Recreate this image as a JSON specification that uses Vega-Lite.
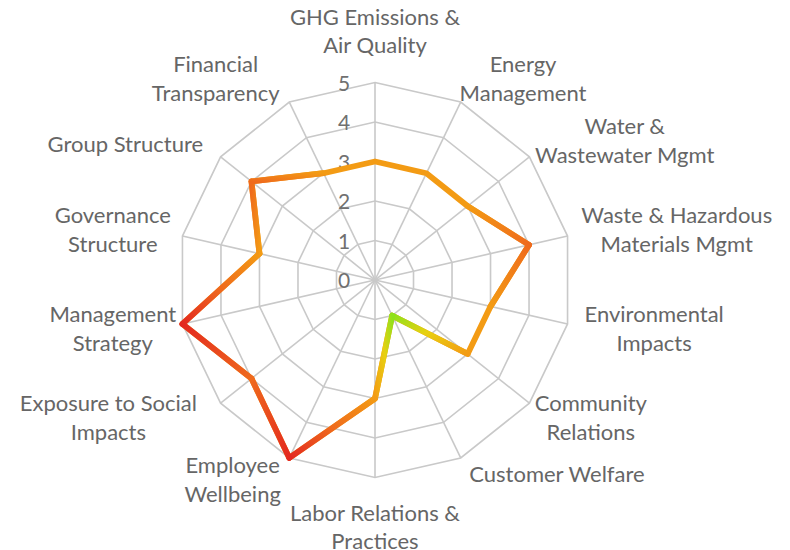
{
  "$schema": "https://vega.github.io/schema/vega-lite/v6.json",
  "width": 790,
  "height": 550,
  "autosize": "none",
  "padding": 0,
  "background": "white",
  "config": {"view": {"stroke": null}},
  "datasets": {
    "cats": [
      {"i": 0, "label": ["GHG Emissions &", "Air Quality"], "value": 3},
      {"i": 1, "label": ["Energy", "Management"], "value": 3},
      {"i": 2, "label": ["Water &", "Wastewater Mgmt"], "value": 3},
      {"i": 3, "label": ["Waste & Hazardous", "Materials Mgmt"], "value": 4},
      {"i": 4, "label": ["Environmental", "Impacts"], "value": 3},
      {"i": 5, "label": ["Community", "Relations"], "value": 3},
      {"i": 6, "label": ["Customer Welfare"], "value": 1},
      {"i": 7, "label": ["Labor Relations &", "Practices"], "value": 3},
      {"i": 8, "label": ["Employee", "Wellbeing"], "value": 5},
      {"i": 9, "label": ["Exposure to Social", "Impacts"], "value": 4},
      {"i": 10, "label": ["Management", "Strategy"], "value": 5},
      {"i": 11, "label": ["Governance", "Structure"], "value": 3},
      {"i": 12, "label": ["Group Structure"], "value": 4},
      {"i": 13, "label": ["Financial", "Transparency"], "value": 3}
    ],
    "grid": [
      {"i":0,"level":1},{"i":1,"level":1},{"i":2,"level":1},{"i":3,"level":1},{"i":4,"level":1},{"i":5,"level":1},{"i":6,"level":1},{"i":7,"level":1},{"i":8,"level":1},{"i":9,"level":1},{"i":10,"level":1},{"i":11,"level":1},{"i":12,"level":1},{"i":13,"level":1},
      {"i":0,"level":2},{"i":1,"level":2},{"i":2,"level":2},{"i":3,"level":2},{"i":4,"level":2},{"i":5,"level":2},{"i":6,"level":2},{"i":7,"level":2},{"i":8,"level":2},{"i":9,"level":2},{"i":10,"level":2},{"i":11,"level":2},{"i":12,"level":2},{"i":13,"level":2},
      {"i":0,"level":3},{"i":1,"level":3},{"i":2,"level":3},{"i":3,"level":3},{"i":4,"level":3},{"i":5,"level":3},{"i":6,"level":3},{"i":7,"level":3},{"i":8,"level":3},{"i":9,"level":3},{"i":10,"level":3},{"i":11,"level":3},{"i":12,"level":3},{"i":13,"level":3},
      {"i":0,"level":4},{"i":1,"level":4},{"i":2,"level":4},{"i":3,"level":4},{"i":4,"level":4},{"i":5,"level":4},{"i":6,"level":4},{"i":7,"level":4},{"i":8,"level":4},{"i":9,"level":4},{"i":10,"level":4},{"i":11,"level":4},{"i":12,"level":4},{"i":13,"level":4},
      {"i":0,"level":5},{"i":1,"level":5},{"i":2,"level":5},{"i":3,"level":5},{"i":4,"level":5},{"i":5,"level":5},{"i":6,"level":5},{"i":7,"level":5},{"i":8,"level":5},{"i":9,"level":5},{"i":10,"level":5},{"i":11,"level":5},{"i":12,"level":5},{"i":13,"level":5}
    ],
    "ticks": [{"level": 0}, {"level": 1}, {"level": 2}, {"level": 3}, {"level": 4}, {"level": 5}]
  },
  "encoding": {
    "x": {"field": "px", "type": "quantitative", "scale": {"domain": [-9.4937, 10.5063], "nice": false, "zero": false}, "axis": null},
    "y": {"field": "py", "type": "quantitative", "scale": {"domain": [-6.8354, 7.0886], "nice": false, "zero": false}, "axis": null}
  },
  "layer": [
    {
      "data": {"name": "grid"},
      "transform": [
        {"calculate": "datum.level*sin(datum.i*PI/7)", "as": "px"},
        {"calculate": "datum.level*cos(datum.i*PI/7)", "as": "py"}
      ],
      "mark": {"type": "line", "interpolate": "linear-closed", "color": "#c9c9c9", "strokeWidth": 1.6},
      "encoding": {"detail": {"field": "level", "type": "nominal"}, "order": {"field": "i", "type": "quantitative"}}
    },
    {
      "data": {"name": "cats"},
      "transform": [
        {"calculate": "0", "as": "px"},
        {"calculate": "0", "as": "py"},
        {"calculate": "5*sin(datum.i*PI/7)", "as": "px2"},
        {"calculate": "5*cos(datum.i*PI/7)", "as": "py2"}
      ],
      "mark": {"type": "rule", "color": "#c9c9c9", "strokeWidth": 1.6},
      "encoding": {"x2": {"field": "px2"}, "y2": {"field": "py2"}}
    },
    {
      "data": {"name": "ticks"},
      "transform": [
        {"calculate": "0", "as": "px"},
        {"calculate": "datum.level", "as": "py"}
      ],
      "mark": {"type": "text", "font": "Lato", "fontSize": 21, "color": "#707070", "align": "center", "baseline": "middle", "dx": -31, "dy": 2},
      "encoding": {"text": {"field": "level", "type": "nominal"}}
    },
    {
      "data": {"name": "cats"},
      "transform": [
        {"calculate": "datum.i*PI/7", "as": "th"},
        {"calculate": "datum.value*sin(datum.th)", "as": "px"},
        {"calculate": "datum.value*cos(datum.th)", "as": "py"}
      ],
      "layer": [
        {
          "mark": {"type": "line", "interpolate": "linear-closed", "color": "#f39b14", "strokeWidth": 5.8, "strokeJoin": "round"},
          "encoding": {"order": {"field": "i", "type": "quantitative"}}
        },
        {
          "transform": [{"filter": "datum.i==2||datum.i==3"}],
          "mark": {"type": "line", "strokeWidth": 5.8, "strokeCap": "round", "color": {"gradient": "linear", "x1": 0, "y1": 0, "x2": 1, "y2": 1, "stops": [{"offset": 0, "color": "#f39b14"}, {"offset": 1, "color": "#ef6a1d"}]}},
          "encoding": {"order": {"field": "i", "type": "quantitative"}}
        },
        {
          "transform": [{"filter": "datum.i==3||datum.i==4"}],
          "mark": {"type": "line", "strokeWidth": 5.8, "strokeCap": "round", "color": {"gradient": "linear", "x1": 1, "y1": 0, "x2": 0, "y2": 1, "stops": [{"offset": 0, "color": "#ef6a1d"}, {"offset": 1, "color": "#f39b14"}]}},
          "encoding": {"order": {"field": "i", "type": "quantitative"}}
        },
        {
          "transform": [{"filter": "datum.i==5||datum.i==6"}],
          "mark": {"type": "line", "strokeWidth": 5.8, "strokeCap": "round", "color": {"gradient": "linear", "x1": 1, "y1": 1, "x2": 0, "y2": 0, "stops": [{"offset": 0, "color": "#f39b14"}, {"offset": 0.55, "color": "#e8d010"}, {"offset": 1, "color": "#8ee21c"}]}},
          "encoding": {"order": {"field": "i", "type": "quantitative"}}
        },
        {
          "transform": [{"filter": "datum.i==6||datum.i==7"}],
          "mark": {"type": "line", "strokeWidth": 5.8, "strokeCap": "round", "color": {"gradient": "linear", "x1": 1, "y1": 0, "x2": 0, "y2": 1, "stops": [{"offset": 0, "color": "#8ee21c"}, {"offset": 0.45, "color": "#e8d010"}, {"offset": 1, "color": "#f39b14"}]}},
          "encoding": {"order": {"field": "i", "type": "quantitative"}}
        },
        {
          "transform": [{"filter": "datum.i==7||datum.i==8"}],
          "mark": {"type": "line", "strokeWidth": 5.8, "strokeCap": "round", "color": {"gradient": "linear", "x1": 1, "y1": 0, "x2": 0, "y2": 1, "stops": [{"offset": 0, "color": "#f39b14"}, {"offset": 0.5, "color": "#ef6a1d"}, {"offset": 1, "color": "#e3281f"}]}},
          "encoding": {"order": {"field": "i", "type": "quantitative"}}
        },
        {
          "transform": [{"filter": "datum.i==8||datum.i==9"}],
          "mark": {"type": "line", "strokeWidth": 5.8, "strokeCap": "round", "color": {"gradient": "linear", "x1": 1, "y1": 1, "x2": 0, "y2": 0, "stops": [{"offset": 0, "color": "#e3281f"}, {"offset": 1, "color": "#ef6a1d"}]}},
          "encoding": {"order": {"field": "i", "type": "quantitative"}}
        },
        {
          "transform": [{"filter": "datum.i==9||datum.i==10"}],
          "mark": {"type": "line", "strokeWidth": 5.8, "strokeCap": "round", "color": {"gradient": "linear", "x1": 1, "y1": 1, "x2": 0, "y2": 0, "stops": [{"offset": 0, "color": "#ef6a1d"}, {"offset": 1, "color": "#e3281f"}]}},
          "encoding": {"order": {"field": "i", "type": "quantitative"}}
        },
        {
          "transform": [{"filter": "datum.i==10||datum.i==11"}],
          "mark": {"type": "line", "strokeWidth": 5.8, "strokeCap": "round", "color": {"gradient": "linear", "x1": 0, "y1": 1, "x2": 1, "y2": 0, "stops": [{"offset": 0, "color": "#e3281f"}, {"offset": 0.5, "color": "#ef6a1d"}, {"offset": 1, "color": "#f39b14"}]}},
          "encoding": {"order": {"field": "i", "type": "quantitative"}}
        },
        {
          "transform": [{"filter": "datum.i==11||datum.i==12"}],
          "mark": {"type": "line", "strokeWidth": 5.8, "strokeCap": "round", "color": {"gradient": "linear", "x1": 1, "y1": 1, "x2": 0, "y2": 0, "stops": [{"offset": 0, "color": "#f39b14"}, {"offset": 1, "color": "#ef6a1d"}]}},
          "encoding": {"order": {"field": "i", "type": "quantitative"}}
        },
        {
          "transform": [{"filter": "datum.i==12||datum.i==13"}],
          "mark": {"type": "line", "strokeWidth": 5.8, "strokeCap": "round", "color": {"gradient": "linear", "x1": 0, "y1": 1, "x2": 1, "y2": 0, "stops": [{"offset": 0, "color": "#ef6a1d"}, {"offset": 1, "color": "#f39b14"}]}},
          "encoding": {"order": {"field": "i", "type": "quantitative"}}
        },
        {
          "transform": [
            {"calculate": "sin(datum.th)", "as": "s"},
            {"calculate": "cos(datum.th)", "as": "c"},
            {"calculate": "length(datum.label)", "as": "n"},
            {"calculate": "max(length(datum.label[0]), datum.n > 1 ? length(datum.label[1]) : 0)", "as": "ml"},
            {"calculate": "datum.ml*0.143", "as": "hw"},
            {"calculate": "datum.n*0.3608", "as": "hh"},
            {"calculate": "5.342*datum.s + (abs(datum.s) < 0.1 ? 0 : (datum.s > 0 ? datum.hw : -datum.hw))", "as": "px"},
            {"calculate": "5.342*datum.c + (abs(datum.s) < 0.1 ? (datum.c > 0 ? 1.3 : -1.3)*datum.hh : 0.4*datum.c*datum.hh) + (datum.n - 1)*0.3608", "as": "py"}
          ],
          "mark": {"type": "text", "font": "Lato", "fontSize": 22, "lineHeight": 28.5, "color": "#666666", "align": "center", "baseline": "middle"},
          "encoding": {"text": {"field": "label"}}
        }
      ]
    }
  ]
}
